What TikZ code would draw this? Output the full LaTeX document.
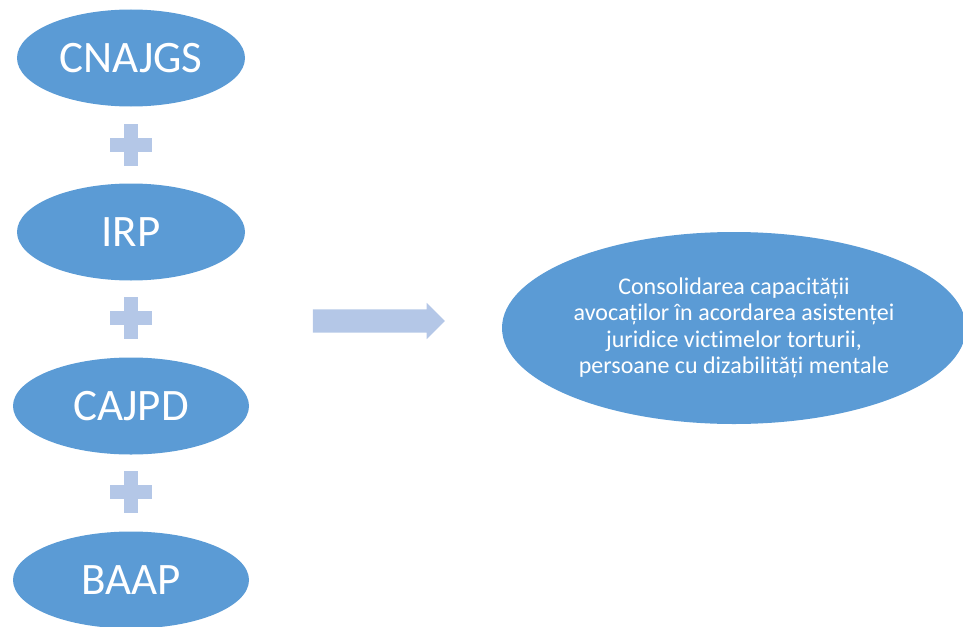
\documentclass[tikz,border=0pt]{standalone}
\usepackage{fontspec}
\setmainfont{Carlito}[Ligatures=CommonOff]
\usetikzlibrary{shapes.geometric,shapes.arrows}
\definecolor{ovalblue}{HTML}{5B9BD5}
\definecolor{plusblue}{HTML}{B4C7E7}

\begin{document}
\begin{tikzpicture}[x=1pt,y=-1pt,
    oval/.style={ellipse,fill=ovalblue,text=white,inner sep=0pt,
        minimum width=228,minimum height=97,font=\fontsize{45}{50}\selectfont},
    goal/.style={ellipse,fill=ovalblue,text=white,inner sep=0pt,align=center,
        minimum width=464,minimum height=192,font=\fontsize{24}{26.3}\selectfont},
    plusbar/.style={rectangle,fill=plusblue,inner sep=0pt},
    bigarrow/.style={single arrow,fill=plusblue,inner xsep=0pt,inner ysep=11.5pt,
        minimum height=132,minimum width=36,single arrow head extend=6.5pt}]
    \useasboundingbox (0,0) rectangle (963,626);
    \node[oval](CNAJGS)at(131, 58){CNAJGS};
    \node[oval](IRP)at(131, 232){IRP};
    \node[oval,minimum width=236](CAJPD)at(131, 406){CAJPD};
    \node[oval,minimum width=236](BAAP)at(131, 580){BAAP};
    % plus signs
    \node[plusbar,minimum width=42,minimum height=14](plus1h)at(131, 145){};
    \node[plusbar,minimum width=14,minimum height=42](plus1v)at(131, 145){};
    \node[plusbar,minimum width=42,minimum height=14](plus2h)at(131, 318){};
    \node[plusbar,minimum width=14,minimum height=42](plus2v)at(131, 318){};
    \node[plusbar,minimum width=42,minimum height=14](plus3h)at(131, 492){};
    \node[plusbar,minimum width=14,minimum height=42](plus3v)at(131, 492){};
    \node[bigarrow](arrow)at(373, 321){};
    \node[goal](Goal)at(734, 328){Consolidarea capacității\\
        avocaților în acordarea asistenței\\
        juridice victimelor torturii,\\
        persoane cu dizabilități mentale};
\end{tikzpicture}
\end{document}
